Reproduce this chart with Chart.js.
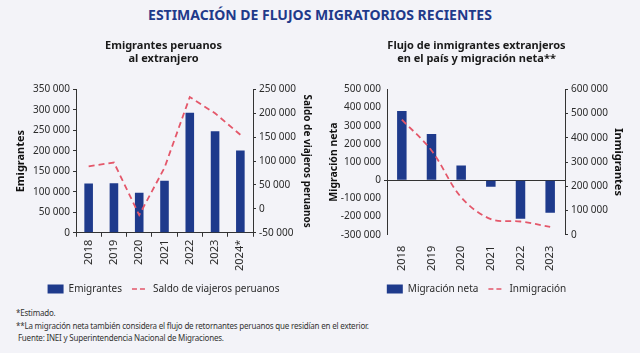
<!DOCTYPE html>
<html>
<head>
    <title>Estimación de flujos migratorios recientes</title>
    <script src="https://cdn.jsdelivr.net/npm/chart.js"></script>
    <style>
        body {
            margin: 0;
            width: 640px;
            height: 353px;
            background: #f3f3f8;
            font-family: "Noto Sans", sans-serif;
            overflow: hidden;
        }
        .main-title {
            height: 30px;
            line-height: 29px;
            text-align: center;
            font-weight: bold;
            font-size: 14px;
            color: #1f3a8a;
        }
        .chart-container {
            width: 320px;
            height: 274px;
            float: left;
            position: relative;
        }
        .notes {
            clear: both;
            padding: 3px 0 0 16px;
            font-size: 8px;
            letter-spacing: -0.2px;
            line-height: 12.5px;
            color: #333;
        }
    </style>
</head>
<body>
    <div class="main-title">ESTIMACIÓN DE FLUJOS MIGRATORIOS RECIENTES</div>
    <div class="chart-container">
        <canvas id="emigrantesChart"></canvas>
    </div>
    <div class="chart-container">
        <canvas id="inmigrantesChart"></canvas>
    </div>
    <div class="notes">
        *Estimado.<br>
        **La migración neta también considera el flujo de retornantes peruanos que residían en el exterior.<br>
        &nbsp;Fuente: INEI y Superintendencia Nacional de Migraciones.
    </div>

    <script>
        // datos
        var years1 = ['2018', '2019', '2020', '2021', '2022', '2023', '2024*'];
        var emigrantes = [120000, 121000, 98000, 127000, 293000, 248000, 201000];
        var saldoViajeros = [89000, 97000, -13000, 86000, 234000, 200000, 155000];

        var years2 = ['2018', '2019', '2020', '2021', '2022', '2023'];
        var migracionNeta = [381000, 254000, 81000, -36000, -212000, -178000];
        var inmigracion = [475000, 348000, 155000, 65000, 55000, 33000];

        var barColor = '#1e3a8c';
        var lineColor = '#e4576a';
        var textColor = '#2b2b2b';

        Chart.defaults.font.family = '"Noto Sans", sans-serif';
        Chart.defaults.font.size = 10;
        Chart.defaults.color = textColor;

        function fmt(v) {
            var s = Math.abs(v).toString().replace(/\B(?=(\d{3})+(?!\d))/g, ' ');
            return (v < 0 ? '-' : '') + s;
        }

        function legendLabels(chart) {
            var items = Chart.defaults.plugins.legend.labels.generateLabels(chart);
            items.forEach(function(it) {
                var ds = chart.data.datasets[it.datasetIndex];
                if (ds.type === 'line') {
                    it.pointStyle = 'line';
                    it.lineWidth = 1.5;
                    it.lineDash = [5, 3];
                } else {
                    it.pointStyle = 'rect';
                    it.lineWidth = 0;
                }
            });
            return items;
        }

        function yAxis(pos, min, max, step, title, width, titleSize) {
            return {
                position: pos,
                min: min,
                max: max,
                afterFit: function(scale) { scale.width = width; },
                ticks: { stepSize: step, autoSkip: false, callback: function(v) { return fmt(v); }, padding: 3, color: textColor, font: { size: 10 } },
                grid: { drawOnChartArea: false, tickLength: 3, color: '#333' },
                border: { color: '#333' },
                title: { display: true, text: title, font: { weight: 'bold', size: titleSize }, color: '#111', padding: 0 }
            };
        }

        function baseOptions(titleLines, padLeft, padRight) {
            return {
                responsive: true,
                maintainAspectRatio: false,
                animation: false,
                layout: { padding: { top: 5, bottom: 0, left: padLeft, right: padRight } },
                plugins: {
                    title: {
                        display: true,
                        text: titleLines,
                        font: { weight: 'bold', size: 11 },
                        color: '#1a1a1a',
                        lineHeight: 1.2,
                        padding: { top: 4, bottom: 24 }
                    },
                    legend: {
                        position: 'bottom',
                        labels: {
                            usePointStyle: true,
                            pointStyleWidth: 16,
                            boxWidth: 16,
                            boxHeight: 9,
                            padding: 10,
                            color: textColor,
                            font: { size: 10 },
                            generateLabels: legendLabels,
                            sort: function(a, b) { return a.datasetIndex - b.datasetIndex; }
                        }
                    },
                    tooltip: { enabled: false }
                }
            };
        }

        var ctx1 = document.getElementById('emigrantesChart').getContext('2d');
        var ctx2 = document.getElementById('inmigrantesChart').getContext('2d');

        var opts1 = baseOptions(['Emigrantes peruanos', 'al extranjero'], 14, 7);
        opts1.scales = {
            x: {
                ticks: { minRotation: 90, maxRotation: 90, padding: 3, color: textColor, font: { size: 11 } },
                grid: { offset: true, drawOnChartArea: false, tickLength: 4, color: '#333' },
                border: { color: '#333' }
            },
            y: yAxis('left', 0, 350000, 50000, 'Emigrantes', 62, 11),
            y1: yAxis('right', -50000, 250000, 50000, 'Saldo de viajeros peruanos', 60, 10)
        };

        var emigrantesChart = new Chart(ctx1, {
            type: 'bar',
            data: {
                labels: years1,
                datasets: [
                    {label: 'Emigrantes', data: emigrantes, backgroundColor: barColor, yAxisID: 'y', barPercentage: 0.34, categoryPercentage: 1, order: 2},
                    {type: 'line', label: 'Saldo de viajeros peruanos', data: saldoViajeros, borderColor: lineColor, borderWidth: 1.8, borderDash: [6, 4], pointRadius: 0, fill: false, tension: 0, yAxisID: 'y1', order: 1}
                ]
            },
            options: opts1
        });

        var opts2 = baseOptions(['Flujo de inmigrantes extranjeros', 'en el país y migración neta**'], 8, 15);
        var yLeft2 = yAxis('left', -300000, 500000, 100000, 'Migración neta', 59, 10.5);
        yLeft2.grid = {
            drawOnChartArea: true,
            tickLength: 3,
            color: function(c) { return c.tick && c.tick.value === 0 ? '#333' : 'rgba(0,0,0,0)'; }
        };
        opts2.scales = {
            x: {
                ticks: { minRotation: 90, maxRotation: 90, padding: 3, color: textColor, font: { size: 11 } },
                grid: { display: false },
                border: { display: false }
            },
            y: yLeft2,
            y1: yAxis('right', 0, 600000, 100000, 'Inmigrantes', 60, 11)
        };

        var inmigrantesChart = new Chart(ctx2, {
            type: 'bar',
            data: {
                labels: years2,
                datasets: [
                    {label: 'Migración neta', data: migracionNeta, backgroundColor: barColor, yAxisID: 'y', barPercentage: 0.32, categoryPercentage: 1, order: 2},
                    {type: 'line', label: 'Inmigración', data: inmigracion, borderColor: lineColor, borderWidth: 1.8, borderDash: [6, 4], pointRadius: 0, fill: false, tension: 0.35, yAxisID: 'y1', order: 1}
                ]
            },
            options: opts2
        });
    </script>
</body>
</html>
